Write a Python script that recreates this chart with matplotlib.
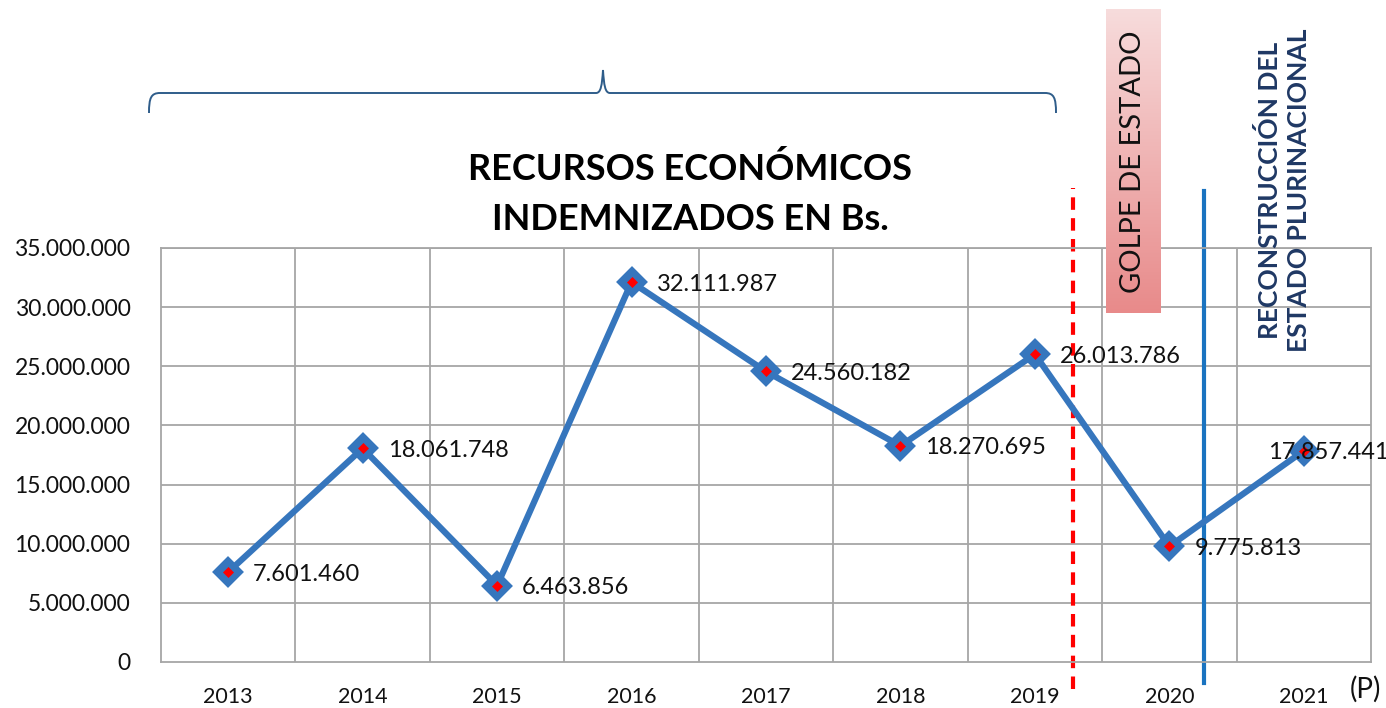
import numpy as np
import matplotlib
matplotlib.use("Agg")
import matplotlib.pyplot as plt
from matplotlib.path import Path
from matplotlib.patches import PathPatch
import matplotlib.transforms as mtransforms

plt.rcParams['font.family'] = ['Lato', 'DejaVu Sans']

years = ['2013', '2014', '2015', '2016', '2017', '2018', '2019', '2020', '2021']
values = [7601460, 18061748, 6463856, 32111987, 24560182, 18270695, 26013786, 9775813, 17857441]
yticks = [0, 5000000, 10000000, 15000000, 20000000, 25000000, 30000000, 35000000]

def fmt(v):
    return f"{v:,}".replace(",", ".")

W, H = 1386, 708
fig = plt.figure(figsize=(W / 100, H / 100), dpi=100)
ax = fig.add_axes([161 / W, 1 - 662 / H, (1371 - 161) / W, (662 - 248) / H])

x = np.arange(len(years))
ax.set_xlim(-0.5, len(years) - 0.5)
ax.set_ylim(0, 35000000)

grid_c = '#a6a6a6'
for b in np.arange(0.5, len(years) - 0.5, 1.0):
    ax.axvline(b, color=grid_c, lw=1.3, zorder=1)
for t in yticks[1:]:
    ax.axhline(t, color=grid_c, lw=1.3, zorder=1)
for s in ['top', 'right', 'left', 'bottom']:
    ax.spines[s].set_color(grid_c)
    ax.spines[s].set_linewidth(1.3)

ax.set_yticks(yticks)
ax.set_yticklabels([fmt(t) for t in yticks], fontsize=16.5, color='#111111')
ax.set_xticks(x)
ax.set_xticklabels(years, fontsize=15.5, color='#111111')
ax.tick_params(length=0)
ax.tick_params(axis='x', pad=18)
ax.tick_params(axis='y', pad=22)

line_c = '#3676bd'
ax.plot(x, values, color=line_c, lw=4.5, zorder=3, solid_joinstyle='round')
ax.plot(x, values, linestyle='none', marker='D', markersize=13, markerfacecolor=line_c,
        markeredgecolor=line_c, markeredgewidth=3, zorder=4, clip_on=False)
ax.plot(x, values, linestyle='none', marker='D', markersize=5.5, markerfacecolor='#ff0000',
        markeredgecolor='#ff0000', markeredgewidth=0.5, zorder=5, clip_on=False)

for i, v in enumerate(values):
    dx = 25
    if i == len(values) - 1:
        dx = -36
    ax.annotate(fmt(v), (x[i], v), xytext=(dx, -2), textcoords='offset pixels',
                ha='left', va='center', fontsize=17, color='#111111', zorder=6)

# vertical event lines (x in data coords, y in axes coords)
trans = mtransforms.blended_transform_factory(ax.transData, ax.transAxes)
ax.plot([6.28, 6.28], [-0.065, (662 - 188) / 414], transform=trans, color='#ff0000', lw=3,
        linestyle=(0, (3, 2)), clip_on=False, zorder=2)
ax.plot([7.26, 7.26], [-0.05, (662 - 191) / 414], transform=trans, color='#1a73c0', lw=3,
        clip_on=False, zorder=2)

# pink gradient box
bx = fig.add_axes([1106 / W, 1 - 313 / H, (1161 - 1106) / W, (313 - 9) / H])
grad = np.linspace(0, 1, 256).reshape(-1, 1)
top = np.array([0xf7, 0xdc, 0xdc]) / 255
bot = np.array([0xe8, 0x8a, 0x8a]) / 255
img = top[None, None, :] * (1 - grad[:, :, None]) + bot[None, None, :] * grad[:, :, None]
bx.imshow(img, aspect='auto', extent=[0, 1, 0, 1])
bx.axis('off')
fig.text(1133 / W, 1 - 162 / H, 'GOLPE DE ESTADO', rotation=90, ha='center', va='center',
         fontsize=21, color='#111111', fontweight='normal', zorder=10)

fig.text(1284 / W, 1 - 190 / H, 'RECONSTRUCCIÓN DEL\nESTADO PLURINACIONAL', rotation=90,
         ha='center', va='center', fontsize=19, color='#1f3864', fontweight='bold',
         linespacing=1.25, multialignment='center', zorder=10)

fig.text(690 / W, 1 - 194 / H, 'RECURSOS ECONÓMICOS\nINDEMNIZADOS EN Bs.', ha='center', va='center',
         fontsize=26, fontweight='bold', color='#000000', linespacing=1.6)

fig.text(1365 / W, 1 - 689 / H, '(P)', ha='center', va='center', fontsize=20, color='#111111')

# curly brace
def fx(px):
    return px / W
def fy(py):
    return 1 - py / H
verts = [
    (fx(149), fy(113)), (fx(149), fy(98)), (fx(151), fy(93)), (fx(160), fy(93)),
    (fx(596), fy(93)),
    (fx(601), fy(93)), (fx(602), fy(85)), (fx(603), fy(70)),
    (fx(604), fy(85)), (fx(605), fy(93)), (fx(610), fy(93)),
    (fx(1045), fy(93)),
    (fx(1054), fy(93)), (fx(1056), fy(98)), (fx(1056), fy(113)),
]
codes = [Path.MOVETO, Path.CURVE4, Path.CURVE4, Path.CURVE4,
         Path.LINETO,
         Path.CURVE4, Path.CURVE4, Path.CURVE4,
         Path.CURVE4, Path.CURVE4, Path.CURVE4,
         Path.LINETO,
         Path.CURVE4, Path.CURVE4, Path.CURVE4]
fig.patches.append(PathPatch(Path(verts, codes), transform=fig.transFigure, fill=False,
                             edgecolor='#2f5d8a', lw=1.4))

fig.savefig('out.png', dpi=100)
